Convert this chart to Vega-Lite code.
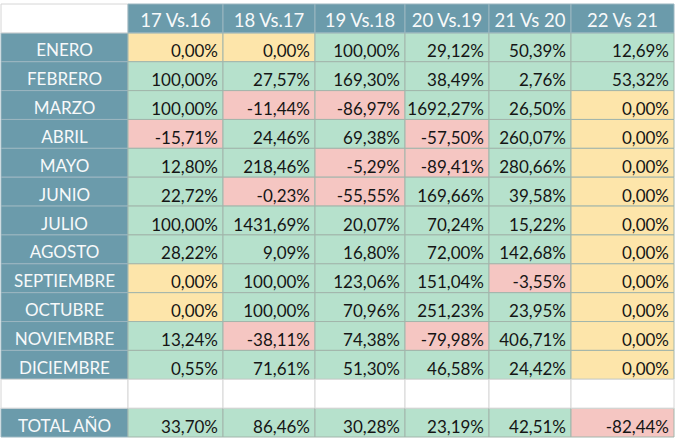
{
  "$schema": "https://vega.github.io/schema/vega-lite/v6.json",
  "padding": {"top": 3, "left": 0, "right": 0, "bottom": 0},
  "background": "white",
  "bounds": "flush",
  "spacing": 0,
  "datasets": {
    "tabla": [
      {"mes": "ENERO", "v17": 0, "v18": 0, "v19": 1.0, "v20": 0.2912, "v21": 0.5039, "v22": 0.1269},
      {"mes": "FEBRERO", "v17": 1.0, "v18": 0.2757, "v19": 1.693, "v20": 0.3849, "v21": 0.0276, "v22": 0.5332},
      {"mes": "MARZO", "v17": 1.0, "v18": -0.1144, "v19": -0.8697, "v20": 16.9227, "v21": 0.265, "v22": 0},
      {"mes": "ABRIL", "v17": -0.1571, "v18": 0.2446, "v19": 0.6938, "v20": -0.575, "v21": 2.6007, "v22": 0},
      {"mes": "MAYO", "v17": 0.128, "v18": 2.1846, "v19": -0.0529, "v20": -0.8941, "v21": 2.8066, "v22": 0},
      {"mes": "JUNIO", "v17": 0.2272, "v18": -0.0023, "v19": -0.5555, "v20": 1.6966, "v21": 0.3958, "v22": 0},
      {"mes": "JULIO", "v17": 1.0, "v18": 14.3169, "v19": 0.2007, "v20": 0.7024, "v21": 0.1522, "v22": 0},
      {"mes": "AGOSTO", "v17": 0.2822, "v18": 0.0909, "v19": 0.168, "v20": 0.72, "v21": 1.4268, "v22": 0},
      {"mes": "SEPTIEMBRE", "v17": 0, "v18": 1.0, "v19": 1.2306, "v20": 1.5104, "v21": -0.0355, "v22": 0},
      {"mes": "OCTUBRE", "v17": 0, "v18": 1.0, "v19": 0.7096, "v20": 2.5123, "v21": 0.2395, "v22": 0},
      {"mes": "NOVIEMBRE", "v17": 0.1324, "v18": -0.3811, "v19": 0.7438, "v20": -0.7998, "v21": 4.0671, "v22": 0},
      {"mes": "DICIEMBRE", "v17": 0.0055, "v18": 0.7161, "v19": 0.513, "v20": 0.4658, "v21": 0.2442, "v22": 0},
      {"mes": "TOTAL AÑO", "v17": 0.337, "v18": 0.8646, "v19": 0.3028, "v20": 0.2319, "v21": 0.4251, "v22": -0.8244}
    ]
  },
  "data": {"name": "tabla"},
  "hconcat": [
    {
      "width": 127, "height": 433,
      "encoding": {"y": {"field": "mes", "type": "nominal", "axis": null, "scale": {"domain": ["header","ENERO","FEBRERO","MARZO","ABRIL","MAYO","JUNIO","JULIO","AGOSTO","SEPTIEMBRE","OCTUBRE","NOVIEMBRE","DICIEMBRE","blank","TOTAL AÑO"], "paddingInner": 0, "paddingOuter": 0}}},
      "layer": [
        {"mark": {"type": "rect", "fill": "#6b9bab", "stroke": "#9bb6c0", "strokeWidth": 1}},
        {"mark": {"type": "text", "font": "Lato", "fontSize": 17, "color": "#f7f9fa", "dy": 4}, "encoding": {"text": {"field": "mes"}}},
        {"data": {"values": [{"mes": "header"}, {"mes": "blank"}]}, "mark": {"type": "rect", "fill": "white", "stroke": "#d6d6d6", "strokeWidth": 1}}
      ]
    },
    {
      "width": 95, "height": 433,
      "encoding": {"y": {"field": "mes", "type": "nominal", "axis": null, "scale": {"domain": ["header","ENERO","FEBRERO","MARZO","ABRIL","MAYO","JUNIO","JULIO","AGOSTO","SEPTIEMBRE","OCTUBRE","NOVIEMBRE","DICIEMBRE","blank","TOTAL AÑO"], "paddingInner": 0, "paddingOuter": 0}}},
      "layer": [
        {"mark": {"type": "rect", "stroke": "#a2b5ab", "strokeWidth": 1}, "encoding": {"color": {"condition": [{"test": "datum.v17 < 0", "value": "#f5c6c2"}, {"test": "datum.v17 === 0", "value": "#fde5aa"}], "value": "#b6e1cc"}}},
        {"mark": {"type": "text", "align": "right", "x": "width", "dx": -5, "dy": 5, "font": "Lato", "fontSize": 17, "color": "#151515"}, "encoding": {"text": {"field": "v17", "type": "quantitative", "format": ".2%"}}},
        {"data": {"values": [{"mes": "header", "t": "17 Vs.16"}]}, "layer": [
          {"mark": {"type": "rect", "fill": "#6b9bab", "stroke": "#9bb6c0", "strokeWidth": 1}},
          {"mark": {"type": "text", "font": "Lato", "fontSize": 18.5, "color": "#f7f9fa", "dy": 3}, "encoding": {"text": {"field": "t"}}}
        ]},
        {"data": {"values": [{"mes": "blank"}]}, "mark": {"type": "rect", "fill": "white", "stroke": "#d6d6d6", "strokeWidth": 1}}
      ]
    },
    {
      "width": 92, "height": 433,
      "encoding": {"y": {"field": "mes", "type": "nominal", "axis": null, "scale": {"domain": ["header","ENERO","FEBRERO","MARZO","ABRIL","MAYO","JUNIO","JULIO","AGOSTO","SEPTIEMBRE","OCTUBRE","NOVIEMBRE","DICIEMBRE","blank","TOTAL AÑO"], "paddingInner": 0, "paddingOuter": 0}}},
      "layer": [
        {"mark": {"type": "rect", "stroke": "#a2b5ab", "strokeWidth": 1}, "encoding": {"color": {"condition": [{"test": "datum.v18 < 0", "value": "#f5c6c2"}, {"test": "datum.v18 === 0", "value": "#fde5aa"}], "value": "#b6e1cc"}}},
        {"mark": {"type": "text", "align": "right", "x": "width", "dx": -5, "dy": 5, "font": "Lato", "fontSize": 17, "color": "#151515"}, "encoding": {"text": {"field": "v18", "type": "quantitative", "format": ".2%"}}},
        {"data": {"values": [{"mes": "header", "t": "18 Vs.17"}]}, "layer": [
          {"mark": {"type": "rect", "fill": "#6b9bab", "stroke": "#9bb6c0", "strokeWidth": 1}},
          {"mark": {"type": "text", "font": "Lato", "fontSize": 18.5, "color": "#f7f9fa", "dy": 3}, "encoding": {"text": {"field": "t"}}}
        ]},
        {"data": {"values": [{"mes": "blank"}]}, "mark": {"type": "rect", "fill": "white", "stroke": "#d6d6d6", "strokeWidth": 1}}
      ]
    },
    {
      "width": 90, "height": 433,
      "encoding": {"y": {"field": "mes", "type": "nominal", "axis": null, "scale": {"domain": ["header","ENERO","FEBRERO","MARZO","ABRIL","MAYO","JUNIO","JULIO","AGOSTO","SEPTIEMBRE","OCTUBRE","NOVIEMBRE","DICIEMBRE","blank","TOTAL AÑO"], "paddingInner": 0, "paddingOuter": 0}}},
      "layer": [
        {"mark": {"type": "rect", "stroke": "#a2b5ab", "strokeWidth": 1}, "encoding": {"color": {"condition": [{"test": "datum.v19 < 0", "value": "#f5c6c2"}, {"test": "datum.v19 === 0", "value": "#fde5aa"}], "value": "#b6e1cc"}}},
        {"mark": {"type": "text", "align": "right", "x": "width", "dx": -5, "dy": 5, "font": "Lato", "fontSize": 17, "color": "#151515"}, "encoding": {"text": {"field": "v19", "type": "quantitative", "format": ".2%"}}},
        {"data": {"values": [{"mes": "header", "t": "19 Vs.18"}]}, "layer": [
          {"mark": {"type": "rect", "fill": "#6b9bab", "stroke": "#9bb6c0", "strokeWidth": 1}},
          {"mark": {"type": "text", "font": "Lato", "fontSize": 18.5, "color": "#f7f9fa", "dy": 3}, "encoding": {"text": {"field": "t"}}}
        ]},
        {"data": {"values": [{"mes": "blank"}]}, "mark": {"type": "rect", "fill": "white", "stroke": "#d6d6d6", "strokeWidth": 1}}
      ]
    },
    {
      "width": 84, "height": 433,
      "encoding": {"y": {"field": "mes", "type": "nominal", "axis": null, "scale": {"domain": ["header","ENERO","FEBRERO","MARZO","ABRIL","MAYO","JUNIO","JULIO","AGOSTO","SEPTIEMBRE","OCTUBRE","NOVIEMBRE","DICIEMBRE","blank","TOTAL AÑO"], "paddingInner": 0, "paddingOuter": 0}}},
      "layer": [
        {"mark": {"type": "rect", "stroke": "#a2b5ab", "strokeWidth": 1}, "encoding": {"color": {"condition": [{"test": "datum.v20 < 0", "value": "#f5c6c2"}, {"test": "datum.v20 === 0", "value": "#fde5aa"}], "value": "#b6e1cc"}}},
        {"mark": {"type": "text", "align": "right", "x": "width", "dx": -5, "dy": 5, "font": "Lato", "fontSize": 17, "color": "#151515"}, "encoding": {"text": {"field": "v20", "type": "quantitative", "format": ".2%"}}},
        {"data": {"values": [{"mes": "header", "t": "20 Vs.19"}]}, "layer": [
          {"mark": {"type": "rect", "fill": "#6b9bab", "stroke": "#9bb6c0", "strokeWidth": 1}},
          {"mark": {"type": "text", "font": "Lato", "fontSize": 18.5, "color": "#f7f9fa", "dy": 3}, "encoding": {"text": {"field": "t"}}}
        ]},
        {"data": {"values": [{"mes": "blank"}]}, "mark": {"type": "rect", "fill": "white", "stroke": "#d6d6d6", "strokeWidth": 1}}
      ]
    },
    {
      "width": 82, "height": 433,
      "encoding": {"y": {"field": "mes", "type": "nominal", "axis": null, "scale": {"domain": ["header","ENERO","FEBRERO","MARZO","ABRIL","MAYO","JUNIO","JULIO","AGOSTO","SEPTIEMBRE","OCTUBRE","NOVIEMBRE","DICIEMBRE","blank","TOTAL AÑO"], "paddingInner": 0, "paddingOuter": 0}}},
      "layer": [
        {"mark": {"type": "rect", "stroke": "#a2b5ab", "strokeWidth": 1}, "encoding": {"color": {"condition": [{"test": "datum.v21 < 0", "value": "#f5c6c2"}, {"test": "datum.v21 === 0", "value": "#fde5aa"}], "value": "#b6e1cc"}}},
        {"mark": {"type": "text", "align": "right", "x": "width", "dx": -5, "dy": 5, "font": "Lato", "fontSize": 17, "color": "#151515"}, "encoding": {"text": {"field": "v21", "type": "quantitative", "format": ".2%"}}},
        {"data": {"values": [{"mes": "header", "t": "21 Vs 20"}]}, "layer": [
          {"mark": {"type": "rect", "fill": "#6b9bab", "stroke": "#9bb6c0", "strokeWidth": 1}},
          {"mark": {"type": "text", "font": "Lato", "fontSize": 18.5, "color": "#f7f9fa", "dy": 3}, "encoding": {"text": {"field": "t"}}}
        ]},
        {"data": {"values": [{"mes": "blank"}]}, "mark": {"type": "rect", "fill": "white", "stroke": "#d6d6d6", "strokeWidth": 1}}
      ]
    },
    {
      "width": 103, "height": 433,
      "encoding": {"y": {"field": "mes", "type": "nominal", "axis": null, "scale": {"domain": ["header","ENERO","FEBRERO","MARZO","ABRIL","MAYO","JUNIO","JULIO","AGOSTO","SEPTIEMBRE","OCTUBRE","NOVIEMBRE","DICIEMBRE","blank","TOTAL AÑO"], "paddingInner": 0, "paddingOuter": 0}}},
      "layer": [
        {"mark": {"type": "rect", "stroke": "#a2b5ab", "strokeWidth": 1}, "encoding": {"color": {"condition": [{"test": "datum.v22 < 0", "value": "#f5c6c2"}, {"test": "datum.v22 === 0", "value": "#fde5aa"}], "value": "#b6e1cc"}}},
        {"mark": {"type": "text", "align": "right", "x": "width", "dx": -5, "dy": 5, "font": "Lato", "fontSize": 17, "color": "#151515"}, "encoding": {"text": {"field": "v22", "type": "quantitative", "format": ".2%"}}},
        {"data": {"values": [{"mes": "header", "t": "22 Vs 21"}]}, "layer": [
          {"mark": {"type": "rect", "fill": "#6b9bab", "stroke": "#9bb6c0", "strokeWidth": 1}},
          {"mark": {"type": "text", "font": "Lato", "fontSize": 18.5, "color": "#f7f9fa", "dy": 3}, "encoding": {"text": {"field": "t"}}}
        ]},
        {"data": {"values": [{"mes": "blank"}]}, "mark": {"type": "rect", "fill": "white", "stroke": "#d6d6d6", "strokeWidth": 1}}
      ]
    }
  ],
  "config": {
    "view": {"stroke": null},
    "concat": {"spacing": 0},
    "locale": {"number": {"decimal": ",", "thousands": ".", "grouping": [3], "currency": ["", " €"], "minus": "-"}}
  }
}
